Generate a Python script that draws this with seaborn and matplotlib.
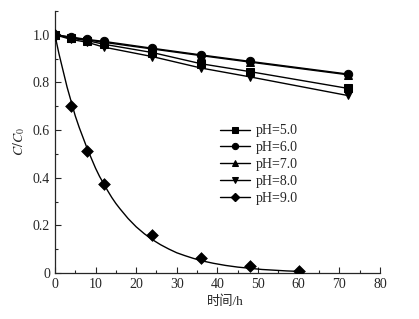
import numpy as np
import pandas as pd
import matplotlib.pyplot as plt
import seaborn as sns
from matplotlib.ticker import MultipleLocator

# sampling times (h)
t_main = [0, 4, 8, 12, 24, 36, 48, 72]
t_ph9 = [0, 4, 8, 12, 24, 36, 48, 60]

ph5 = [1.0, 0.985, 0.975, 0.960, 0.925, 0.878, 0.845, 0.775]
ph6 = [1.0, 0.990, 0.980, 0.972, 0.943, 0.915, 0.888, 0.835]
ph7 = [1.0, 0.988, 0.978, 0.968, 0.940, 0.912, 0.885, 0.832]
ph8 = [1.0, 0.980, 0.968, 0.948, 0.908, 0.860, 0.823, 0.745]
ph9 = [1.0, 0.700, 0.510, 0.375, 0.160, 0.065, 0.030, 0.010]

# fitted curve for pH=9.0
fit_t = [0, 1, 2, 3, 4, 5, 6, 7, 8, 9, 10, 11, 12, 13, 14, 15, 16, 18, 20,
         22, 24, 26, 28, 30, 32, 34, 36, 39, 42, 45, 48, 51, 54, 57, 60]
fit_c = [1.0, 0.92, 0.85, 0.78, 0.72, 0.66, 0.61, 0.565, 0.52, 0.48, 0.44,
         0.405, 0.375, 0.345, 0.317, 0.292, 0.27, 0.229, 0.194, 0.165, 0.14,
         0.119, 0.101, 0.085, 0.073, 0.062, 0.052, 0.041, 0.032, 0.025, 0.02,
         0.015, 0.012, 0.009, 0.007]

labels = ['pH=5.0', 'pH=6.0', 'pH=7.0', 'pH=8.0', 'pH=9.0']
markers = ['s', 'o', '^', 'v', 'D']

sns.set_style('ticks')
plt.rcParams['font.family'] = ['Liberation Serif', 'Noto Sans CJK SC']
plt.rcParams['mathtext.fontset'] = 'stix'

fig = plt.figure(figsize=(4.19, 3.19), dpi=100)
ax = fig.add_axes([0.131, 0.144, 0.776, 0.822])

series = [(t_main, ph5), (t_main, ph6), (t_main, ph7), (t_main, ph8)]
for (t, c), lab, m in zip(series, labels[:4], markers[:4]):
    df = pd.DataFrame({'t': t, 'c': c})
    sns.lineplot(data=df, x='t', y='c', ax=ax, color='black', lw=1.0,
                 marker=m, markersize=6, markeredgecolor='black',
                 label=lab)

fit_df = pd.DataFrame({'t': fit_t, 'c': fit_c})
sns.lineplot(data=fit_df, x='t', y='c', ax=ax, color='black', lw=1.0)
df9 = pd.DataFrame({'t': t_ph9, 'c': ph9})
sns.scatterplot(data=df9, x='t', y='c', ax=ax, color='black', marker='D',
                s=36, edgecolor='black', zorder=3)
# legend handle for pH=9.0
ax.plot([], [], color='black', lw=1.0, marker='D', markersize=5.5, label=labels[4])

ax.set_xlim(0, 80)
ax.set_ylim(0, 1.1)
ax.xaxis.set_major_locator(MultipleLocator(10))
ax.xaxis.set_minor_locator(MultipleLocator(5))
ax.yaxis.set_minor_locator(MultipleLocator(0.1))
ax.set_yticks([0, 0.2, 0.4, 0.6, 0.8, 1.0])
ax.set_yticklabels(['0', '0.2', '0.4', '0.6', '0.8', '1.0'])
ax.tick_params(which='both', direction='in', labelsize=10, width=0.8)
ax.tick_params(which='major', length=4)
ax.tick_params(which='minor', length=2.5)
for s in ['top', 'right']:
    ax.spines[s].set_visible(False)
for s in ['left', 'bottom']:
    ax.spines[s].set_linewidth(0.9)

ax.set_xlabel('时间/h', fontsize=9.5, labelpad=2)
ax.xaxis.set_label_coords(0.525, -0.085)
ax.set_ylabel('$C/C_0$', fontsize=10, labelpad=4)

handles, labs = ax.get_legend_handles_labels()
ax.legend(handles[:5], labs[:5], loc='upper left', bbox_to_anchor=(0.49, 0.588),
          frameon=False, fontsize=10, markerscale=0.75, handlelength=2.2,
          handletextpad=0.4, labelspacing=0.28, borderaxespad=0)

fig.savefig('out.png', dpi=100)
